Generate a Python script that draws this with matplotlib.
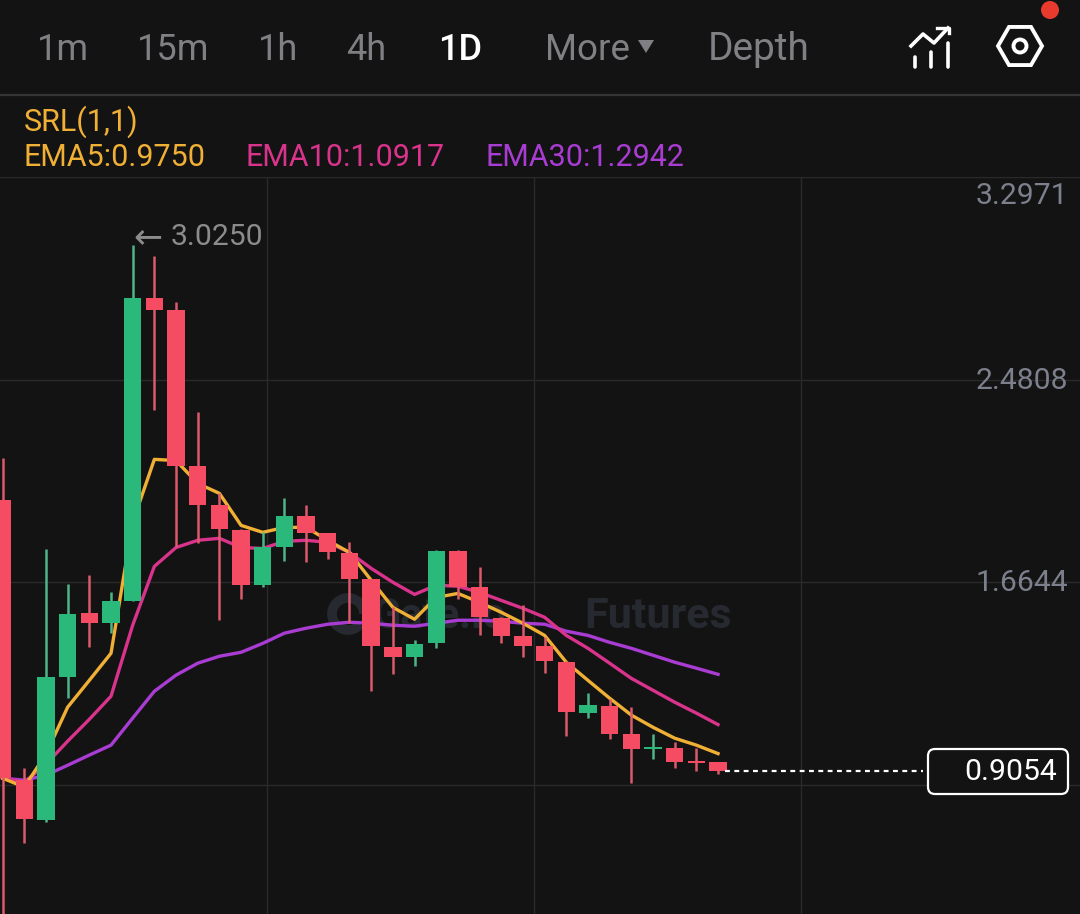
import matplotlib
matplotlib.use("Agg")
import matplotlib.pyplot as plt
from matplotlib.patches import FancyBboxPatch, Circle, RegularPolygon, Polygon, Arc

W, H = 1080, 914
BG = "#131313"
GREEN = "#2ab97b"
RED = "#f54c63"
WICK_RED = "#dc5a6c"
WICK_GREEN = "#4fb488"
C5 = "#f0b035"
C10 = "#d9338c"
C30 = "#a93cd2"
GRID = "#2a2a2a"
GRAY = "#808084"
AXG = "#7c7f8c"

opens = [1.995, .868, .707, 1.283, 1.540, 1.500, 1.588, 2.811, 2.763, 2.135, 1.978, 1.874, 1.653, 1.809, 1.930, 1.862, 1.781,
         1.677, 1.403, 1.363, 1.419, 1.789, 1.645, 1.520, 1.447, 1.407, 1.343, 1.138, 1.166, 1.053, .993, .997, .945, .941]
closes = [.876, .711, 1.283, 1.536, 1.500, 1.588, 2.811, 2.763, 2.135, 1.978, 1.878, 1.653, 1.805, 1.930, 1.862, 1.785, 1.677,
          1.407, 1.363, 1.415, 1.789, 1.645, 1.524, 1.447, 1.407, 1.347, 1.142, 1.170, 1.053, .993, 1.001, .941, .939, .9054]
highs = [2.164, .916, 1.797, 1.657, 1.693, 1.624, 3.025, 2.980, 2.795, 2.349, 2.023, 1.878, 1.866, 2.003, 1.978, 1.862, 1.826,
         1.677, 1.564, 1.431, 1.793, 1.793, 1.725, 1.524, 1.572, 1.443, 1.347, 1.218, 1.194, 1.162, 1.053, 1.021, .997, .941]
lows = [.300, .615, .699, 1.198, 1.403, 1.460, 1.588, 2.357, 1.805, 1.822, 1.512, 1.596, 1.645, 1.749, 1.745, 1.757, 1.500,
        1.226, 1.295, 1.327, 1.399, 1.596, 1.451, 1.419, 1.363, 1.299, 1.045, 1.118, 1.033, .856, .953, .916, .904, .892]

ema5 = [.876, .840, .973, 1.162, 1.270, 1.379, 1.906, 2.160, 2.155, 2.063, 2.023, 1.894, 1.866, 1.886, 1.886, 1.834, 1.785,
        1.673, 1.564, 1.516, 1.604, 1.620, 1.584, 1.544, 1.500, 1.451, 1.343, 1.270, 1.198, 1.130, 1.081, 1.037, 1.009, .9750]
ema10 = [.876, .860, .932, 1.025, 1.113, 1.206, 1.492, 1.729, 1.805, 1.834, 1.842, 1.805, 1.801, 1.830, 1.834, 1.826, 1.785,
         1.721, 1.665, 1.616, 1.653, 1.649, 1.624, 1.592, 1.560, 1.524, 1.451, 1.399, 1.339, 1.278, 1.230, 1.182, 1.138, 1.0917]
ema30 = [.876, .868, .888, .928, .969, 1.009, 1.118, 1.226, 1.291, 1.339, 1.367, 1.383, 1.419, 1.460, 1.480, 1.496, 1.504,
         1.500, 1.492, 1.488, 1.500, 1.512, 1.512, 1.508, 1.500, 1.496, 1.468, 1.451, 1.423, 1.399, 1.371, 1.343, 1.319, 1.2942]

price_ticks = [3.2971, 2.4808, 1.6644, 0.848]
price_labels = ["3.2971", "2.4808", "1.6644"]
label_offsets_px = [-19, -1, -1]
time_grid = [12.18, 24.49, 36.81]
tabs = ["1m", "15m", "1h", "4h", "1D", "More", "Depth"]
tab_x = [37, 137, 258, 346, 438, 545, 708]
tab_sizes = [26, 26, 26, 26, 26, 26.5, 28]
last_price = 0.9054
peak_price = 3.0250

plt.rcParams["font.family"] = ["Roboto", "DejaVu Sans"]
fig = plt.figure(figsize=(W / 100, H / 100), dpi=100, facecolor=BG)

# main chart: pixel rows 177..914, full width
ax = fig.add_axes([0, 0, 1, (914 - 177) / 914], facecolor=BG)
ax.set_xlim(-2.6 / 21.68, (W - 2.6) / 21.68)
ax.set_ylim(0.329, 3.2971)
for s in ax.spines.values():
    s.set_visible(False)
ax.set_xticks([])
ax.set_yticks([])
for p in price_ticks:
    ax.axhline(p, color=GRID, lw=1, zorder=1)
for t in time_grid:
    ax.axvline(t, color=GRID, lw=1, zorder=1)

idx = list(range(len(opens)))
ax.plot(idx, ema30, color=C30, lw=2.4, zorder=3, solid_joinstyle="round")
ax.plot(idx, ema10, color=C10, lw=2.4, zorder=3, solid_joinstyle="round")
ax.plot(idx, ema5, color=C5, lw=2.4, zorder=3, solid_joinstyle="round")

for i, o, c, h, l in zip(idx, opens, closes, highs, lows):
    up = c >= o
    ax.vlines(i, l, h, color=WICK_GREEN if up else WICK_RED, lw=1.8, zorder=4)
    body = abs(c - o)
    ax.bar(i, max(body, 0.008), bottom=min(o, c), width=0.8,
           color=GREEN if up else RED, lw=0, zorder=5)

# last-price dashed leader
ax.plot([33.3, 42.45], [last_price, last_price], color="white", lw=1.6,
        dashes=(2.2, 2.0), zorder=6)

# price axis labels
for p, lab, off in zip(price_ticks, price_labels, label_offsets_px):
    ax.annotate(lab, xy=(1, p), xycoords=("axes fraction", "data"),
                xytext=(-12, off), textcoords="offset pixels",
                ha="right", va="center", color=AXG, fontsize=21.7, zorder=7,
                annotation_clip=False)

# overlay in pixel coordinates for app chrome
ov = fig.add_axes([0, 0, 1, 1], facecolor="none")
ov.set_xlim(0, W)
ov.set_ylim(H, 0)
ov.axis("off")

# watermark behind candles
wm = fig.add_axes([0, 0, 1, 1], facecolor="none", zorder=-1)
wm.set_xlim(0, W)
wm.set_ylim(H, 0)
wm.axis("off")
ax.set_zorder(1)
ax.patch.set_alpha(0)
fig.patch.set_facecolor(BG)
ov.set_zorder(2)
WM = "#272931"
wm.add_patch(Arc((348, 614), 32, 32, theta1=40, theta2=360, lw=7, color=WM))
wm.text(372, 616, "Gate.io", color=WM, fontsize=30, fontweight="bold", va="center", ha="left")
wm.text(584, 616, "Futures", color=WM, fontsize=31, fontweight="bold", va="center", ha="left")

for lab, x, fs in zip(tabs, tab_x, tab_sizes):
    active = lab == "1D"
    ov.text(x, 50, lab, color="white" if active else GRAY, fontsize=fs,
            fontweight="medium" if active else "normal", va="center", ha="left")
ov.add_patch(Polygon([[638, 40], [654, 40], [646, 53]], color=GRAY, lw=0))
ov.plot([0, W], [95, 95], color="#353535", lw=1.6)

# chart-type icon
for x, y0 in [(914, 57), (930, 52), (947, 43)]:
    ov.plot([x + 1, x + 1], [y0, 67], color="white", lw=2.6, solid_capstyle="round")
ov.plot([911, 923, 934, 948], [46, 34, 43, 28], color="white", lw=2.6)
ov.plot([937, 949, 949], [28, 28, 33], color="white", lw=2.4)
# settings icon
ov.add_patch(RegularPolygon((1020, 46), 6, radius=22, orientation=0.5236,
                            fill=False, ec="white", lw=2.8))
ov.add_patch(Circle((1020, 46), 6.5, fill=False, ec="white", lw=2.8))
ov.add_patch(Circle((1050, 10), 9, color="#e83b2e", lw=0))

ov.text(24, 122, "SRL(1,1)", color=C5, fontsize=22, va="center", ha="left")
ov.text(24, 157, "EMA5:%.4f" % ema5[-1], color=C5, fontsize=22, va="center", ha="left")
ov.text(246, 157, "EMA10:%.4f" % ema10[-1], color=C10, fontsize=22, va="center", ha="left")
ov.text(486, 157, "EMA30:%.4f" % ema30[-1], color=C30, fontsize=22, va="center", ha="left")

ov.text(133, 237, "←", color="#8c8c8c", fontsize=25, va="center", ha="left", family="DejaVu Sans")
ov.text(171, 237, "%.4f" % peak_price, color="#8c8c8c", fontsize=21.7, va="center", ha="left")

ov.add_patch(FancyBboxPatch((931, 752), 134, 39, boxstyle="round,pad=3,rounding_size=7",
                            fc=BG, ec="white", lw=1.6))
ov.text(1011, 772, "%.4f" % last_price, color="white", fontsize=21.7, va="center", ha="center")

fig.savefig("out.png", dpi=100, facecolor=BG)
